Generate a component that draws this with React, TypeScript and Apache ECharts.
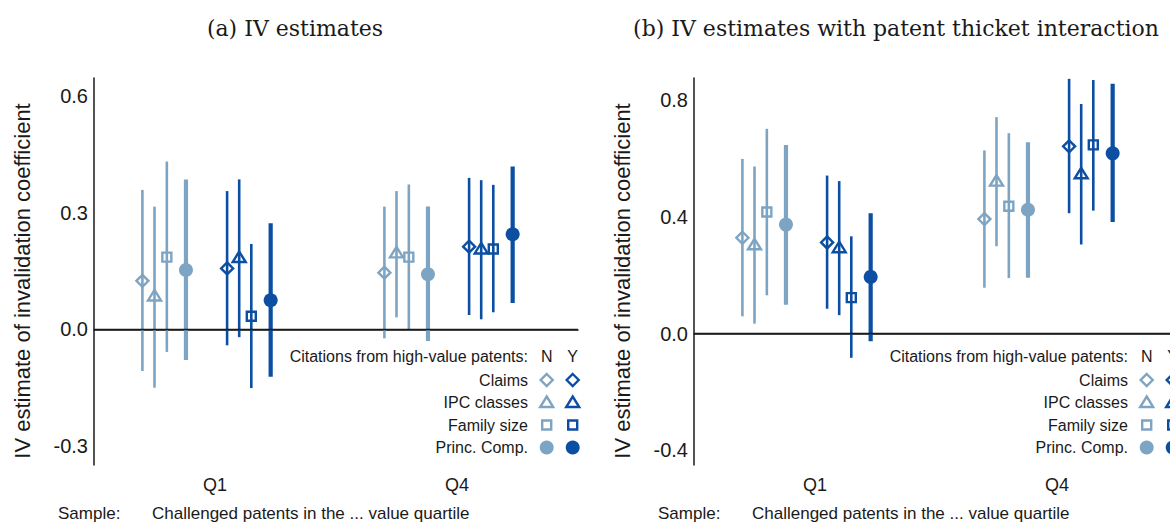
import React, { useEffect, useRef } from 'react';
import * as echarts from 'echarts';

// ---------- data ----------
const CATEGORIES = ['Q1', 'Q4'];
const MEASURES = ['Claims', 'IPC classes', 'Family size', 'Princ. Comp.'];
const Y_TICKS_A = [-0.3, 0, 0.3, 0.6];
const Y_TICKS_B = [-0.4, 0, 0.4, 0.8];
const Y_TITLE = 'IV estimate of invalidation coefficient';

// [estimate, lower CI, upper CI] for Q1, Q4
// Panel (a)
const aClaimsN = [[0.125, -0.107, 0.359], [0.146, -0.023, 0.316]];
const aIpcN = [[0.086, -0.150, 0.316], [0.197, 0.031, 0.356]];
const aFamilyN = [[0.186, -0.058, 0.432], [0.186, 0.000, 0.373]];
const aPcN = [[0.153, -0.079, 0.386], [0.142, -0.030, 0.316]];
const aClaimsY = [[0.157, -0.041, 0.356], [0.213, 0.037, 0.390]];
const aIpcY = [[0.185, -0.020, 0.386], [0.207, 0.026, 0.384]];
const aFamilyY = [[0.034, -0.151, 0.220], [0.207, 0.044, 0.372]];
const aPcY = [[0.075, -0.122, 0.273], [0.245, 0.068, 0.419]];
// Panel (b)
const bClaimsN = [[0.328, 0.059, 0.598], [0.392, 0.157, 0.627]];
const bIpcN = [[0.304, 0.034, 0.572], [0.522, 0.299, 0.741]];
const bFamilyN = [[0.416, 0.131, 0.701], [0.436, 0.190, 0.686]];
const bPcN = [[0.373, 0.099, 0.646], [0.424, 0.191, 0.655]];
const bClaimsY = [[0.312, 0.085, 0.541], [0.641, 0.412, 0.872]];
const bIpcY = [[0.294, 0.063, 0.522], [0.547, 0.305, 0.786]];
const bFamilyY = [[0.123, -0.083, 0.333], [0.646, 0.421, 0.868]];
const bPcY = [[0.194, -0.026, 0.412], [0.617, 0.382, 0.855]];

// ---------- style ----------
const LIGHT = '#7ea4c3';
const DARK = '#0b4ea2';
const INK = '#1a1a1a';
const SANS = '"Liberation Sans", Arial, sans-serif';
const SERIF = '"DejaVu Serif", serif';
const SHAPES = ['diamond', 'triangle', 'square', 'circle'];
const OFFSETS = [-0.3, -0.25, -0.199, -0.12, 0.05, 0.1, 0.15, 0.23];

function markerEl(shape: string, x: number, y: number, color: string): any {
  const s = { fill: 'none', stroke: color, lineWidth: 2.4 };
  if (shape === 'diamond')
    return { type: 'polygon', shape: { points: [[x, y - 6], [x + 6, y], [x, y + 6], [x - 6, y]] }, style: s };
  if (shape === 'triangle')
    return { type: 'polygon', shape: { points: [[x, y - 6], [x + 6.5, y + 4.5], [x - 6.5, y + 4.5]] }, style: s };
  if (shape === 'square')
    return { type: 'rect', shape: { x: x - 4.5, y: y - 4.5, width: 9, height: 9 }, style: s };
  return { type: 'circle', shape: { cx: x, cy: y, r: 7 }, style: { fill: color } };
}

const panels = [
  {
    title: '(a) IV estimates', titleX: 295, left: 94, yMin: -0.349, yMax: 0.647, ticks: Y_TICKS_A,
    series: [aClaimsN, aIpcN, aFamilyN, aPcN, aClaimsY, aIpcY, aFamilyY, aPcY], dx: 0,
  },
  {
    title: '(b) IV estimates with patent thicket interaction', titleX: 896, left: 694, yMin: -0.45, yMax: 0.875, ticks: Y_TICKS_B,
    series: [bClaimsN, bIpcN, bFamilyN, bPcN, bClaimsY, bIpcY, bFamilyY, bPcY], dx: 600,
  },
];

function buildOption() {
  const grid: any[] = [];
  const xAxis: any[] = [];
  const yAxis: any[] = [];
  const series: any[] = [];
  const graphic: any[] = [];

  panels.forEach((p, gi) => {
    grid.push({ left: p.left, top: 78, width: 484, height: 387, outerBoundsMode: 'none', containLabel: false });
    xAxis.push({
      type: 'category', gridIndex: gi, data: CATEGORIES, boundaryGap: true,
      axisLine: { show: true, lineStyle: { color: INK, width: 1.5 } },
      axisTick: { show: false },
      axisLabel: { fontSize: 18, fontFamily: SANS, color: INK, margin: 11 },
      splitLine: { show: false },
    });
    yAxis.push({
      type: 'value', gridIndex: gi, min: p.yMin, max: p.yMax,
      axisLine: { show: true, onZero: false, lineStyle: { color: INK, width: 1.5 } },
      axisTick: { show: false },
      splitLine: { show: false },
      axisLabel: {
        customValues: p.ticks, fontSize: 20, fontFamily: SANS, color: INK, margin: 6,
        formatter: (v: number) => v.toFixed(1),
      },
    });

    // zero line
    series.push({
      type: 'line', xAxisIndex: gi, yAxisIndex: gi, data: [], silent: true,
      markLine: {
        silent: true, symbol: 'none', label: { show: false },
        lineStyle: { color: INK, width: 1.4, type: 'solid' },
        data: [{ yAxis: 0 }],
      },
    });

    p.series.forEach((arr, si) => {
      const m = si % 4;
      const color = si < 4 ? LIGHT : DARK;
      const shape = SHAPES[m];
      const lw = m === 3 ? 4.2 : 2.6;
      const off = OFFSETS[si];
      series.push({
        type: 'custom', name: `${MEASURES[m]} ${si < 4 ? 'N' : 'Y'}`,
        xAxisIndex: gi, yAxisIndex: gi,
        data: arr.map((d, ci) => [ci, d[0], d[1], d[2]]),
        encode: { x: 0, y: [1, 2, 3] },
        clip: false,
        renderItem: (params: any, api: any) => {
          const c = api.value(0);
          const band = api.size([1, 0])[0];
          const pe = api.coord([c, api.value(1)]);
          const pl = api.coord([c, api.value(2)]);
          const ph = api.coord([c, api.value(3)]);
          const x = pe[0] + off * band;
          return {
            type: 'group',
            children: [
              { type: 'line', shape: { x1: x, y1: pl[1], x2: x, y2: ph[1] }, style: { stroke: color, lineWidth: lw } },
              markerEl(shape, x, pe[1], color),
            ],
          };
        },
      });
    });

    // y-axis title
    graphic.push({
      type: 'text', x: 22 + p.dx, y: 281, rotation: Math.PI / 2,
      style: { text: Y_TITLE, fontSize: 22, fontFamily: SANS, fill: INK, align: 'center', verticalAlign: 'middle' },
    });

    // panel title
    graphic.push({
      type: 'text', x: p.titleX, y: 28,
      style: { text: p.title, fontSize: 22, fontFamily: SERIF, fill: INK, align: 'center', verticalAlign: 'middle' },
    });

    // legend
    const lx = 528 + p.dx;
    const nx = 546.7 + p.dx;
    const yx = 572.7 + p.dx;
    const rows = [380, 402.5, 425, 447.5];
    graphic.push({
      type: 'text', x: lx, y: 356,
      style: { text: 'Citations from high-value patents:', fontSize: 16, fontFamily: SANS, fill: INK, align: 'right', verticalAlign: 'middle' },
    });
    graphic.push({ type: 'text', x: nx, y: 356, style: { text: 'N', fontSize: 16, fontFamily: SANS, fill: INK, align: 'center', verticalAlign: 'middle' } });
    graphic.push({ type: 'text', x: yx, y: 356, style: { text: 'Y', fontSize: 16, fontFamily: SANS, fill: INK, align: 'center', verticalAlign: 'middle' } });
    MEASURES.forEach((name, m) => {
      graphic.push({
        type: 'text', x: lx, y: rows[m],
        style: { text: name, fontSize: 16, fontFamily: SANS, fill: INK, align: 'right', verticalAlign: 'middle' },
      });
      graphic.push(markerEl(SHAPES[m], nx, rows[m], LIGHT));
      graphic.push(markerEl(SHAPES[m], yx, rows[m], DARK));
    });

    // sample note
    graphic.push({ type: 'text', x: 58 + p.dx, y: 513, style: { text: 'Sample:', fontSize: 17, fontFamily: SANS, fill: INK, align: 'left', verticalAlign: 'middle' } });
    graphic.push({ type: 'text', x: 152 + p.dx, y: 513, style: { text: 'Challenged patents in the ... value quartile', fontSize: 17, fontFamily: SANS, fill: INK, align: 'left', verticalAlign: 'middle' } });
  });

  return { animation: false, backgroundColor: '#ffffff', grid, xAxis, yAxis, series, graphic };
}

export default function App() {
  const ref = useRef<HTMLDivElement>(null);
  useEffect(() => {
    if (!ref.current) return;
    const chart = echarts.init(ref.current, null, { renderer: 'svg' });
    chart.setOption(buildOption() as any);
    return () => chart.dispose();
  }, []);
  return (
    <div
      ref={ref}
      style={{ position: 'absolute', left: 0, top: 0, width: 1170, height: 524, background: '#fff', overflow: 'hidden' }}
    />
  );
}
